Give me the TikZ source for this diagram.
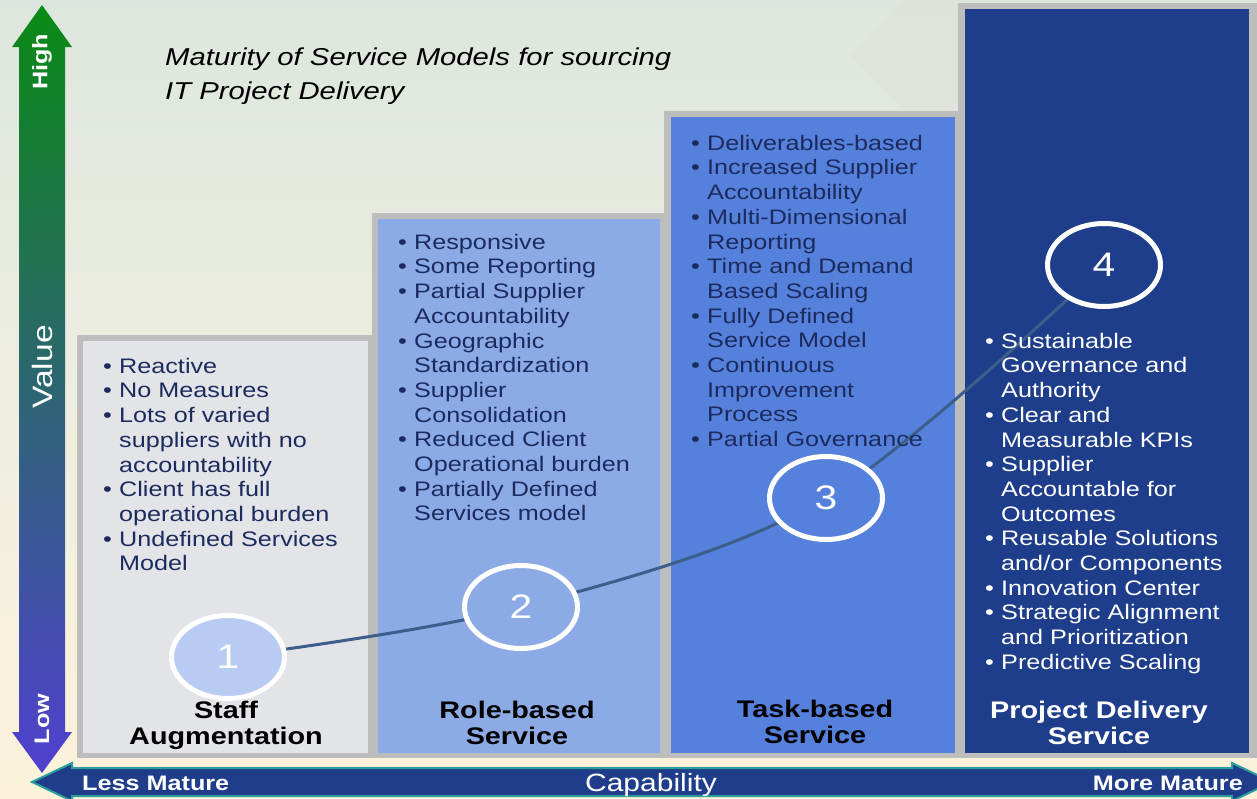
\documentclass[tikz,border=0pt]{standalone}
\usepackage{fontspec}
\setmainfont[FakeStretch=1.2]{Liberation Sans}
\usetikzlibrary{shapes.geometric,shadows}
\pgfdeclarelayer{back}
\pgfdeclarelayer{curve}
\pgfsetlayers{back,curve,main}
\definecolor{bgtop}{HTML}{DDE6DE}
\definecolor{bgmid}{HTML}{EEEEE0}
\definecolor{bgbot}{HTML}{FCF2DA}
\definecolor{faint}{HTML}{DEE1DA}
\definecolor{framegrey}{HTML}{BDBDBD}
\definecolor{boxA}{HTML}{E3E4E8}
\definecolor{boxB}{HTML}{8CAAE6}
\definecolor{boxC}{HTML}{5580DC}
\definecolor{boxD}{HTML}{1E3D8A}
\definecolor{circA}{HTML}{B8CBF2}
\definecolor{navytext}{HTML}{1C2B5E}
\definecolor{curvecol}{HTML}{3B5F8A}
\definecolor{arrnavy}{HTML}{1F3D8A}
\definecolor{arrteal}{HTML}{2A9E9C}
\definecolor{vgreen}{HTML}{0A8A14}
\definecolor{vteal}{HTML}{2C6B72}
\definecolor{vpurple}{HTML}{5040D0}
\newcommand\bl[1]{\makebox[16pt][l]{\textbullet}#1}
\newcommand\ind[1]{\hspace*{16pt}#1}
\begin{document}
\begin{tikzpicture}[x=1pt,y=-1pt,
  frame/.style={fill=framegrey},
  listtext/.style={anchor=north west, inner sep=0, align=left, text=navytext, font=\fontsize{21}{24.7}\selectfont},
  boxtitle/.style={anchor=north, inner sep=0, align=center, font=\bfseries\fontsize{24}{26}\selectfont},
  num/.style={ellipse, draw=white, line width=5pt, minimum width=113pt, minimum height=83pt, inner sep=0, text=white, font=\fontsize{34}{34}\selectfont,
    drop shadow={shadow xshift=1.5pt, shadow yshift=-2pt, opacity=0.2, fill=black}},
  axislabel/.style={text=white, inner sep=0, rotate=90, font=\bfseries\fontsize{21}{21}\selectfont},
  caplabel/.style={text=white, inner sep=0, font=\bfseries\fontsize{21}{21}\selectfont}]
\useasboundingbox (0,0) rectangle (1257,798);
\begin{pgfonlayer}{back}
  \shade[top color=bgtop, bottom color=bgbot, middle color=bgmid] (0,0) rectangle (1257,798);
  \fill[faint, opacity=0.6] (850,55) -- (905,0) -- (958,0) -- (958,111) -- (905,111) -- cycle;
  % boxes
  \fill[frame] (77,335) rectangle (373,758);
  \fill[boxA] (83,341) rectangle (368,753);
  \fill[frame] (372,213) rectangle (665,758);
  \fill[boxB] (378,219) rectangle (660,753);
  \fill[frame] (664,111) rectangle (960,758);
  \fill[boxC] (671,117) rectangle (955,753);
  \fill[frame] (958,3) rectangle (1257,758);
  \fill[boxD] (965,9) rectangle (1249,753);
  % vertical value arrow
  \shade[top color=vgreen, middle color=vteal, bottom color=vpurple]
    (42,5) -- (72,47) -- (65,47) -- (65,732) -- (72,732) -- (42,773) -- (12,732) -- (19,732) -- (19,47) -- (12,47) -- cycle;
  % horizontal capability arrow
  \draw[fill=arrnavy, draw=arrteal, line width=2pt, line join=miter]
    (32,782) -- (72,763) -- (72,768) -- (1232,768) -- (1232,763) -- (1272,782) -- (1232,801) -- (1232,796) -- (72,796) -- (72,801) -- cycle;
\end{pgfonlayer}

% title
\node[anchor=north west, inner sep=0, align=left, font=\itshape\fontsize{24.4}{34}\selectfont] (title) at (165,47)
  {\rule{0pt}{18pt}Maturity of Service Models for sourcing\\IT Project Delivery};

% axis labels
\node[axislabel] (high) at (42,62) {High};
\node[axislabel, font=\fontsize{28}{28}\selectfont] (value) at (42,367) {Value};
\node[axislabel] (low) at (42,719) {Low};
\node[caplabel, anchor=base west] (less) at (82,790) {Less Mature};
\node[caplabel, anchor=base, font=\fontsize{25}{25}\selectfont] (capab) at (651,791) {Capability};
\node[caplabel, anchor=base east] (more) at (1243,790) {More Mature};

% lists
\node[listtext] (listA) at (103,357) {\rule{0pt}{16pt}\bl{Reactive}\\\bl{No Measures}\\\bl{Lots of varied}\\\ind{suppliers with no}\\\ind{accountability}\\\bl{Client has full}\\\ind{operational burden}\\\bl{Undefined Services}\\\ind{Model}};
\node[listtext] (listB) at (398,233) {\rule{0pt}{16pt}\bl{Responsive}\\\bl{Some Reporting}\\\bl{Partial Supplier}\\\ind{Accountability}\\\bl{Geographic}\\\ind{Standardization}\\\bl{Supplier}\\\ind{Consolidation}\\\bl{Reduced Client}\\\ind{Operational burden}\\\bl{Partially Defined}\\\ind{Services model}};
\node[listtext] (listC) at (691,134) {\rule{0pt}{16pt}\bl{Deliverables-based}\\\bl{Increased Supplier}\\\ind{Accountability}\\\bl{Multi-Dimensional}\\\ind{Reporting}\\\bl{Time and Demand}\\\ind{Based Scaling}\\\bl{Fully Defined}\\\ind{Service Model}\\\bl{Continuous}\\\ind{Improvement}\\\ind{Process}\\\bl{Partial Governance}};
\node[listtext, text=white] (listD) at (985,332) {\rule{0pt}{16pt}\bl{Sustainable}\\\ind{Governance and}\\\ind{Authority}\\\bl{Clear and}\\\ind{Measurable KPIs}\\\bl{Supplier}\\\ind{Accountable for}\\\ind{Outcomes}\\\bl{Reusable Solutions}\\\ind{and/or Components}\\\bl{Innovation Center}\\\bl{Strategic Alignment}\\\ind{and Prioritization}\\\bl{Predictive Scaling}};

% box titles
\node[boxtitle] (tA) at (226,700) {\rule{0pt}{18pt}Staff\\Augmentation};
\node[boxtitle] (tB) at (517,700) {\rule{0pt}{18pt}Role-based\\Service};
\node[boxtitle] (tC) at (815,699) {\rule{0pt}{18pt}Task-based\\Service};
\node[boxtitle, text=white] (tD) at (1099,700) {\rule{0pt}{18pt}Project Delivery\\Service};

% maturity circles
\node[num, fill=circA] (c1) at (228,657) {1};
\node[num, fill=boxB] (c2) at (521,607) {2};
\node[num, fill=boxC] (c3) at (826,498) {3};
\node[num, fill=boxD] (c4) at (1104,265) {4};

\begin{pgfonlayer}{curve}
  \draw[curvecol, line width=3pt] plot[smooth, tension=0.55] coordinates {(c1.center) (c2.center) (c3.center) (c4.center)};
\end{pgfonlayer}
\end{tikzpicture}
\end{document}
